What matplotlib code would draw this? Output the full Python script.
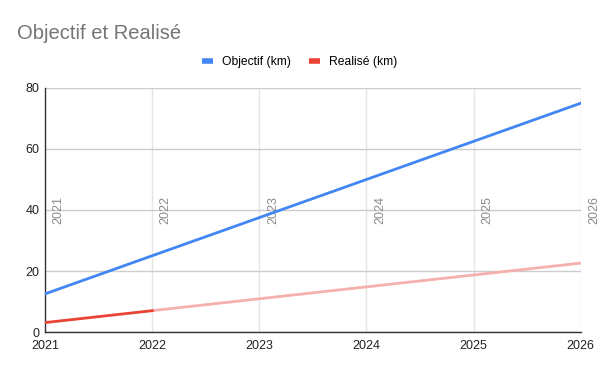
import matplotlib
matplotlib.use('Agg')
import matplotlib.pyplot as plt

# data
years = [2021, 2022, 2023, 2024, 2025, 2026]
objectif = [12.5, 25.0, 37.5, 50.0, 62.5, 75.0]
realise_years = [2021, 2022]
realise = [3.1, 7.0]
trend_years = [2022, 2023, 2024, 2025, 2026]
trend = [7.0, 10.9, 14.8, 18.7, 22.6]
yticks = [0, 20, 40, 60, 80]
annot_y = 40

plt.rcParams['font.family'] = ['Liberation Sans', 'DejaVu Sans']

fig = plt.figure(figsize=(6, 3.71), dpi=100, facecolor='white')
ax = fig.add_axes([0.075, 0.105, 0.893, 0.658])

ax.plot(trend_years, trend, color='#f4b0aa', lw=2, solid_capstyle='butt', zorder=3)
ax.plot(years, objectif, color='#4285f4', lw=2, label='Objectif (km)', zorder=4)
ax.plot(realise_years, realise, color='#ea4335', lw=2, label='Realisé (km)', zorder=4)

for yr in years:
    ax.text(yr + 0.07, annot_y, str(yr), rotation=90, ha='left', va='center',
            color='#8a8a8a', fontsize=9, clip_on=False)

ax.set_xlim(2021, 2026)
ax.set_ylim(0, 80)
ax.set_xticks(years)
ax.set_xticklabels([str(y) for y in years])
ax.set_yticks(yticks)
ax.tick_params(length=0, labelsize=9, colors='#222222', pad=4)
ax.tick_params(axis='x', pad=6)

ax.grid(axis='y', color='#cccccc', lw=1)
ax.grid(axis='x', color='#e5e5e5', lw=1)
ax.set_axisbelow(True)
for s in ['top', 'right']:
    ax.spines[s].set_visible(False)
for s in ['left', 'bottom']:
    ax.spines[s].set_color('#333333')
    ax.spines[s].set_linewidth(1)

fig.text(0.028, 0.91, 'Objectif et Realisé', color='#757575', fontsize=14.5, va='center')

fig.legend(loc='center', bbox_to_anchor=(0.5, 0.833), ncol=2, frameon=False,
           fontsize=8.7, handlelength=0.85, handletextpad=0.8, columnspacing=1.5,
           handleheight=0.5)
for h in fig.legends[0].legend_handles:
    h.set_linewidth(4)
    h.set_solid_capstyle('butt')

fig.savefig('out.png', dpi=100)
